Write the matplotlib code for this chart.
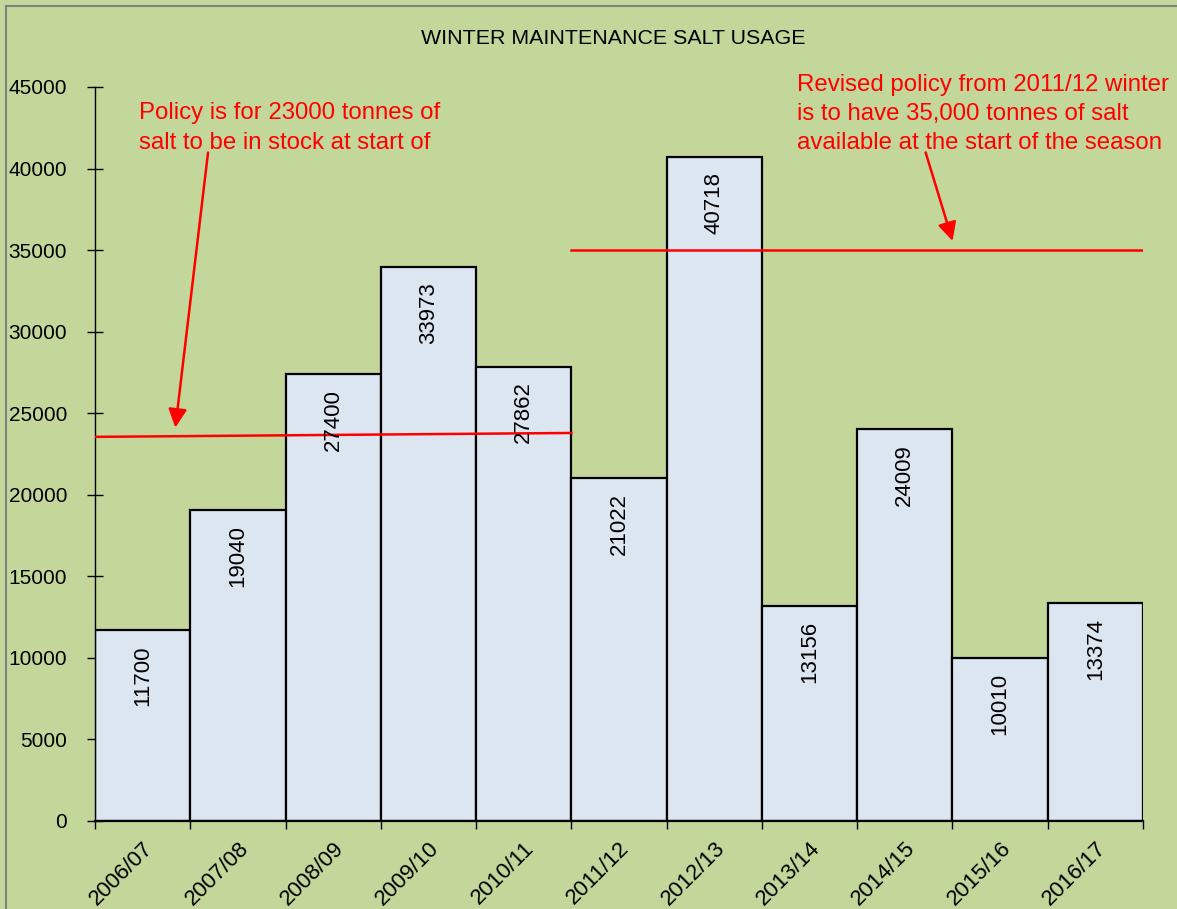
import matplotlib.pyplot as plt
import numpy as np
from matplotlib.lines import Line2D

plt.rcParams['font.family'] = ['Liberation Sans', 'DejaVu Sans']

seasons = ['2006/07', '2007/08', '2008/09', '2009/10', '2010/11', '2011/12',
           '2012/13', '2013/14', '2014/15', '2015/16', '2016/17']
salt = [11700, 19040, 27400, 33973, 27862, 21022, 40718, 13156, 24009, 10010, 13374]

# policy lines (start x, end x, start y, end y)
old_policy = [-0.5, 4.5, 23550, 23790]
new_policy = [4.5, 10.5, 35000, 35000]

green = '#C4D79B'
fig = plt.figure(figsize=(11.77, 9.09), dpi=100, facecolor=green)
ax = fig.add_axes([95 / 1177, 1 - 821 / 909, 1048 / 1177, 734 / 909])
ax.set_facecolor(green)

x = np.arange(len(seasons))
ax.bar(x, salt, width=1.0, color='#DCE6F1', edgecolor='black', linewidth=1.6, zorder=2)

for xi, v in zip(x, salt):
    ax.annotate(str(v), (xi, v), xytext=(0, -33), textcoords='offset points',
                rotation=90, ha='center', va='center', fontsize=16, zorder=4)

ax.set_xlim(-0.5, 10.5)
ax.set_ylim(0, 45000)
ax.set_yticks(np.arange(0, 45001, 5000))
ax.set_xticks(x)
ax.set_xticklabels(seasons, rotation=45, ha='right', va='top', rotation_mode='anchor', fontsize=16)
ax.set_xticks(np.arange(-0.5, 11, 1), minor=True)
ax.tick_params(axis='x', which='major', length=0, pad=12)
ax.tick_params(axis='x', which='minor', length=6, direction='out', width=1)
ax.tick_params(axis='y', direction='inout', length=12, width=1, labelsize=15, pad=14)

for s in ['top', 'right']:
    ax.spines[s].set_visible(False)
ax.spines['bottom'].set_linewidth(1.6)
ax.spines['left'].set_linewidth(1)

ax.plot(old_policy[:2], old_policy[2:], color='red', lw=1.8, zorder=3)
ax.plot(new_policy[:2], new_policy[2:], color='red', lw=1.8, zorder=3)

ax.annotate('', xy=(0.34, 23950), xytext=(0.69, 41150),
            arrowprops=dict(arrowstyle='-|>', color='red', lw=1.8, mutation_scale=28))
ax.annotate('', xy=(8.51, 35400), xytext=(8.21, 41150),
            arrowprops=dict(arrowstyle='-|>', color='red', lw=1.8, mutation_scale=28))

ax.text(-0.04, 44050, 'Policy is for 23000 tonnes of\nsalt to be in stock at start of',
        color='red', fontsize=17.3, ha='left', va='top', linespacing=1.45)
ax.text(6.87, 45800, 'Revised policy from 2011/12 winter\nis to have 35,000 tonnes of salt\navailable at the start of the season',
        color='red', fontsize=17.3, ha='left', va='top', linespacing=1.4)

fig.text(613 / 1177, 1 - 38 / 909, 'WINTER MAINTENANCE SALT USAGE', ha='center', va='center', fontsize=15.4)

fig.add_artist(Line2D([6 / 1177, 1], [1 - 6 / 909, 1 - 6 / 909], color='#7F7F7F', lw=1.5))
fig.add_artist(Line2D([6 / 1177, 6 / 1177], [0, 1 - 6 / 909], color='#7F7F7F', lw=1.5))

fig.savefig('out.png', dpi=100, facecolor=green)
